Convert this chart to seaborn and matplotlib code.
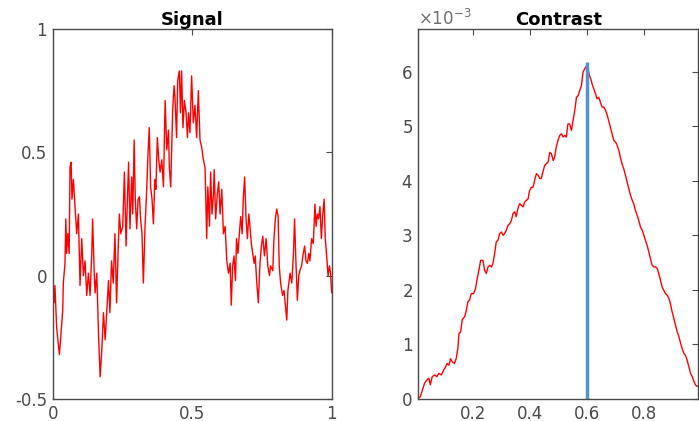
import numpy as np
import pandas as pd
import seaborn as sns
import matplotlib.pyplot as plt

# signal samples (time, value)
signal_t = [
    0.000, 0.005, 0.008, 0.014, 0.024, 0.030, 0.036, 0.038, 0.044, 0.047,
    0.050, 0.054, 0.059, 0.062, 0.066, 0.069, 0.074, 0.080, 0.086, 0.092,
    0.098, 0.104, 0.110, 0.116, 0.122, 0.128, 0.134, 0.140, 0.143, 0.148,
    0.152, 0.158, 0.164, 0.170, 0.176, 0.182, 0.188, 0.194, 0.200, 0.205,
    0.211, 0.217, 0.223, 0.229, 0.235, 0.239, 0.244, 0.251, 0.257, 0.263,
    0.268, 0.272, 0.277, 0.283, 0.287, 0.292, 0.296, 0.301, 0.306, 0.311,
    0.315, 0.320, 0.325, 0.331, 0.337, 0.341, 0.346, 0.351, 0.356, 0.361,
    0.366, 0.370, 0.375, 0.380, 0.385, 0.391, 0.397, 0.403, 0.409, 0.415,
    0.418, 0.423, 0.427, 0.430, 0.435, 0.438, 0.444, 0.448, 0.454, 0.458,
    0.462, 0.467, 0.472, 0.478, 0.483, 0.487, 0.492, 0.498, 0.504, 0.510,
    0.516, 0.522, 0.528, 0.534, 0.540, 0.546, 0.552, 0.556, 0.562, 0.566,
    0.571, 0.576, 0.579, 0.584, 0.590, 0.595, 0.600, 0.606, 0.612, 0.618,
    0.624, 0.630, 0.636, 0.640, 0.645, 0.650, 0.655, 0.659, 0.664, 0.669,
    0.674, 0.679, 0.683, 0.688, 0.693, 0.698, 0.703, 0.707, 0.712, 0.717,
    0.722, 0.726, 0.731, 0.737, 0.743, 0.748, 0.753, 0.759, 0.765, 0.771,
    0.777, 0.781, 0.789, 0.793, 0.798, 0.803, 0.808, 0.812, 0.817, 0.824,
    0.829, 0.834, 0.839, 0.843, 0.851, 0.857, 0.863, 0.867, 0.872, 0.877,
    0.882, 0.886, 0.892, 0.898, 0.903, 0.908, 0.913, 0.918, 0.922, 0.928,
    0.934, 0.940, 0.944, 0.949, 0.953, 0.958, 0.963, 0.968, 0.973, 0.977,
    0.982, 0.987, 0.992, 0.996, 1.000,
]
signal_v = [
    -0.00, -0.11, -0.04, -0.21, -0.32, -0.23, -0.14, -0.03, 0.05, 0.23,
    0.09, 0.17, 0.09, 0.44, 0.46, 0.31, 0.39, 0.28, 0.17, 0.25,
    -0.04, 0.15, -0.00, 0.06, -0.08, 0.01, -0.08, 0.09, 0.23, 0.04,
    -0.07, 0.01, -0.23, -0.41, -0.30, -0.15, -0.26, -0.14, -0.02, -0.15,
    0.06, -0.03, 0.17, -0.11, 0.12, 0.25, 0.17, 0.20, 0.42, 0.12,
    0.32, 0.46, 0.19, 0.40, 0.25, 0.55, 0.31, 0.19, 0.31, 0.32,
    0.23, 0.17, -0.03, 0.20, 0.35, 0.48, 0.60, 0.36, 0.31, 0.21,
    0.39, 0.35, 0.56, 0.47, 0.42, 0.47, 0.36, 0.71, 0.51, 0.59,
    0.44, 0.36, 0.54, 0.67, 0.77, 0.73, 0.56, 0.79, 0.83, 0.66,
    0.83, 0.60, 0.71, 0.66, 0.56, 0.66, 0.58, 0.81, 0.62, 0.69,
    0.56, 0.75, 0.55, 0.52, 0.47, 0.44, 0.15, 0.36, 0.20, 0.42,
    0.25, 0.33, 0.43, 0.23, 0.33, 0.38, 0.25, 0.35, 0.17, 0.20,
    0.06, 0.01, 0.05, -0.12, 0.04, 0.08, -0.02, 0.15, 0.09, 0.17,
    0.24, 0.17, 0.31, 0.40, 0.23, 0.15, 0.25, 0.20, 0.13, 0.09,
    0.05, 0.08, -0.02, -0.11, 0.05, 0.12, 0.16, 0.08, 0.15, 0.04,
    -0.00, 0.04, 0.02, 0.15, 0.23, 0.27, 0.24, 0.04, -0.03, -0.08,
    -0.06, -0.12, -0.18, -0.06, 0.01, -0.03, 0.09, 0.23, 0.05, -0.10,
    -0.00, 0.02, 0.04, 0.09, 0.12, 0.06, 0.05, 0.09, 0.06, 0.15,
    0.13, 0.29, 0.20, 0.25, 0.23, 0.28, 0.15, 0.25, 0.31, 0.15,
    0.08, -0.00, 0.04, 0.01, -0.07,
]

# contrast curve (split point, value in units of 1e-3)
contrast_t = [
    0.006, 0.015, 0.022, 0.030, 0.038, 0.045, 0.050, 0.057, 0.065, 0.073,
    0.080, 0.089, 0.097, 0.104, 0.109, 0.116, 0.121, 0.127, 0.135, 0.141,
    0.147, 0.151, 0.157, 0.162, 0.171, 0.177, 0.182, 0.188, 0.194, 0.202,
    0.209, 0.215, 0.221, 0.227, 0.235, 0.241, 0.247, 0.253, 0.259, 0.265,
    0.270, 0.276, 0.282, 0.288, 0.294, 0.300, 0.306, 0.311, 0.317, 0.323,
    0.329, 0.335, 0.341, 0.347, 0.352, 0.358, 0.364, 0.370, 0.376, 0.382,
    0.388, 0.394, 0.399, 0.405, 0.411, 0.417, 0.423, 0.429, 0.435, 0.440,
    0.446, 0.452, 0.458, 0.464, 0.470, 0.476, 0.482, 0.487, 0.493, 0.499,
    0.505, 0.511, 0.517, 0.523, 0.528, 0.534, 0.540, 0.546, 0.552, 0.558,
    0.564, 0.570, 0.575, 0.581, 0.587, 0.593, 0.600, 0.604, 0.609, 0.614,
    0.619, 0.625, 0.631, 0.636, 0.642, 0.648, 0.654, 0.660, 0.666, 0.672,
    0.677, 0.683, 0.689, 0.695, 0.701, 0.707, 0.713, 0.718, 0.724, 0.730,
    0.736, 0.742, 0.748, 0.754, 0.760, 0.765, 0.771, 0.777, 0.783, 0.789,
    0.795, 0.801, 0.806, 0.812, 0.818, 0.824, 0.830, 0.836, 0.842, 0.848,
    0.853, 0.859, 0.865, 0.871, 0.877, 0.883, 0.889, 0.894, 0.900, 0.906,
    0.912, 0.918, 0.924, 0.930, 0.935, 0.941, 0.947, 0.953, 0.959, 0.965,
    0.971, 0.977, 0.982, 0.988, 0.992,
]
contrast_v = [
    0.01, 0.04, 0.16, 0.29, 0.35, 0.38, 0.26, 0.41, 0.44, 0.41,
    0.47, 0.44, 0.53, 0.59, 0.65, 0.62, 0.74, 0.68, 0.65, 0.74,
    0.93, 1.20, 1.23, 1.45, 1.51, 1.63, 1.78, 1.81, 1.93, 1.93,
    2.02, 2.21, 2.36, 2.54, 2.54, 2.36, 2.30, 2.42, 2.45, 2.42,
    2.48, 2.66, 2.88, 2.91, 3.03, 3.06, 3.00, 3.03, 3.09, 3.18,
    3.21, 3.27, 3.40, 3.43, 3.34, 3.49, 3.58, 3.55, 3.52, 3.61,
    3.64, 3.67, 3.82, 3.88, 3.88, 4.01, 4.13, 4.10, 4.04, 4.04,
    4.16, 4.28, 4.31, 4.34, 4.52, 4.49, 4.37, 4.43, 4.62, 4.74,
    4.83, 4.86, 4.80, 4.83, 4.80, 5.04, 5.04, 4.92, 5.10, 5.29,
    5.53, 5.56, 5.65, 5.74, 5.99, 6.05, 6.11, 6.08, 5.93, 5.87,
    5.77, 5.68, 5.59, 5.50, 5.53, 5.44, 5.35, 5.35, 5.29, 5.20,
    5.10, 4.98, 4.86, 4.74, 4.71, 4.65, 4.55, 4.43, 4.31, 4.22,
    4.10, 3.98, 3.85, 3.73, 3.64, 3.58, 3.46, 3.37, 3.27, 3.15,
    3.09, 3.00, 2.91, 2.82, 2.70, 2.57, 2.45, 2.42, 2.42, 2.39,
    2.30, 2.18, 2.05, 1.99, 1.93, 1.90, 1.84, 1.75, 1.60, 1.48,
    1.35, 1.23, 1.14, 1.02, 0.93, 0.84, 0.80, 0.71, 0.59, 0.47,
    0.41, 0.32, 0.26, 0.23, 0.23,
]
best_split = 0.6
best_height = 6.17

sig = pd.DataFrame({"t": signal_t, "v": signal_v})
con = pd.DataFrame({"t": contrast_t, "v": np.array(contrast_v) * 1e-3})

sns.set_theme(style="white")
plt.rcParams["font.family"] = ["DejaVu Sans"]
grey = "#4a4a4a"
plt.rcParams.update({
    "axes.edgecolor": grey, "xtick.color": grey, "ytick.color": grey,
    "xtick.labelcolor": grey, "ytick.labelcolor": grey,
})

fig = plt.figure(figsize=(6.99, 4.21), dpi=100)
ax1 = fig.add_axes([0.0754, 0.0523, 0.3991, 0.8788])
ax2 = fig.add_axes([0.5984, 0.0523, 0.4006, 0.8788])

sns.lineplot(data=sig, x="t", y="v", ax=ax1, color="red", lw=1.0,
             sort=False, estimator=None)
ax1.set_xlim(0, 1)
ax1.set_ylim(-0.5, 1)
ax1.set_xticks([0, 0.5, 1])
ax1.set_xticklabels(["0", "0.5", "1"])
ax1.set_yticks([-0.5, 0, 0.5, 1])
ax1.set_yticklabels(["-0.5", "0", "0.5", "1"])
ax1.set_title("Signal", fontsize=13, fontweight="bold", color="black", pad=3)

sns.lineplot(data=con, x="t", y="v", ax=ax2, color="red", lw=1.0,
             sort=False, estimator=None)
ax2.plot([best_split, best_split], [0, best_height * 1e-3],
         color="#4f95d6", lw=2.5, solid_capstyle="butt")
ax2.set_xlim(1 / 128, 127 / 128)
ax2.set_ylim(0, 6.78e-3)
ax2.set_xticks([0.2, 0.4, 0.6, 0.8])
ax2.set_yticks(np.arange(0, 7) * 1e-3)
ax2.ticklabel_format(axis="y", style="sci", scilimits=(-3, -3), useMathText=True)
ax2.yaxis.get_offset_text().set_color("#707070")
ax2.yaxis.get_offset_text().set_fontsize(12)
ax2.set_title("Contrast", fontsize=13, fontweight="bold", color="black", pad=3)

for ax in (ax1, ax2):
    ax.set_xlabel("")
    ax.set_ylabel("")
    ax.tick_params(direction="in", top=True, right=True, length=4,
                   width=0.8, labelsize=12, pad=4)
    for s in ax.spines.values():
        s.set_linewidth(1.0)
        s.set_color(grey)

fig.savefig("out.png", dpi=100)
